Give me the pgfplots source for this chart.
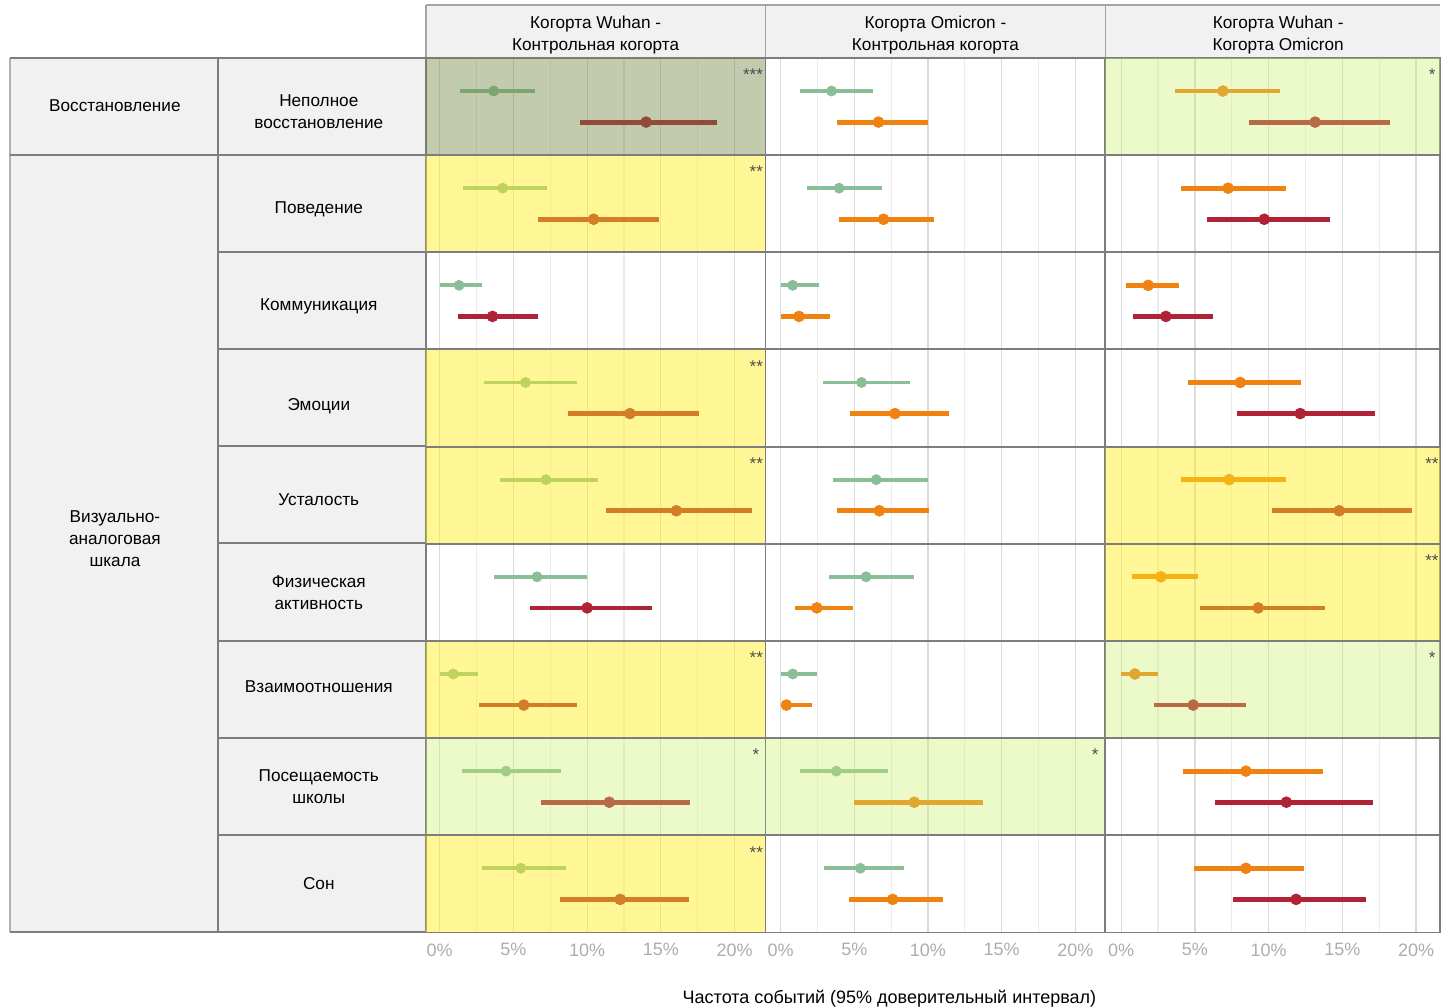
\documentclass[border=0pt]{standalone}
\usepackage{pgfplots}
\pgfplotsset{compat=1.18}
\usepackage{pgfplotstable}
\usepackage{fontspec}
\setmainfont{Liberation Sans}

\definecolor{cgreen}{RGB}{138,190,150}
\definecolor{ccrim}{RGB}{176,34,54}
\definecolor{corange}{RGB}{240,130,18}
\definecolor{ovYc}{RGB}{255,238,20}
\definecolor{ovGc}{RGB}{200,238,100}
\definecolor{ovDc}{RGB}{110,130,60}
\definecolor{lbg}{RGB}{241,241,241}
\definecolor{sepc}{RGB}{125,125,125}
\definecolor{tickg}{RGB}{172,172,172}

% r = row (0 = top), x = estimate, lo/hi = 95% CI
\pgfplotstableread{
r x lo hi
0 3.66 1.36 6.44
1 4.27 1.56 7.25
2 1.31 0.00 2.88
3 5.82 3.03 9.33
4 7.20 4.10 10.75
5 6.60 3.70 10.00
6 0.92 0.00 2.58
7 4.50 1.50 8.20
8 5.50 2.90 8.58
}\cAt
\pgfplotstableread{
r x lo hi
0 14.00 9.50 18.80
1 10.44 6.64 14.90
2 3.58 1.22 6.65
3 12.90 8.68 17.60
4 16.05 11.30 21.20
5 10.00 6.12 14.40
6 5.70 2.67 9.30
7 11.50 6.85 16.95
8 12.24 8.14 16.90
}\cAb
\pgfplotstableread{
r x lo hi
0 3.46 1.29 6.24
1 3.97 1.80 6.90
2 0.82 0.00 2.60
3 5.49 2.85 8.80
4 6.49 3.58 9.97
5 5.80 3.30 9.06
6 0.83 0.00 2.50
7 3.78 1.35 7.30
8 5.41 2.98 8.40
}\cBt
\pgfplotstableread{
r x lo hi
0 6.64 3.80 10.00
1 6.98 3.97 10.40
2 1.25 0.00 3.37
3 7.76 4.73 11.40
4 6.70 3.82 10.10
5 2.46 0.95 4.88
6 0.40 0.00 2.10
7 9.07 5.00 13.70
8 7.61 4.66 11.05
}\cBb
\pgfplotstableread{
r x lo hi
0 6.90 3.66 10.80
1 7.25 4.05 11.17
2 1.83 0.32 3.93
3 8.07 4.50 12.18
4 7.32 4.05 11.20
5 2.69 0.70 5.24
6 0.93 0.00 2.46
7 8.46 4.18 13.67
8 8.46 4.93 12.43
}\cCt
\pgfplotstableread{
r x lo hi
0 13.15 8.70 18.20
1 9.70 5.85 14.15
2 3.03 0.77 6.24
3 12.14 7.84 17.20
4 14.78 10.26 19.75
5 9.29 5.36 13.80
6 4.88 2.24 8.45
7 11.20 6.35 17.07
8 11.86 7.58 16.63
}\cCb

\pgfplotsset{
  panel/.style={
    scale only axis, height=437.5pt,
    ymin=0, ymax=9, y dir=reverse, ytick=\empty,
    xtick={0,5,10,15,20},
    xticklabel={\pgfmathprintnumber[assume math mode=true]{\tick}\%},
    minor xtick={2.5,7.5,12.5,17.5,22.5},
    xmajorgrids, xminorgrids,
    major grid style={draw=black!14, line width=0.6pt},
    minor grid style={draw=black!7, line width=0.6pt},
    major tick length=0pt, minor tick length=0pt,
    xticklabel style={font=\fontsize{9}{9}\selectfont, text=tickg, yshift=-2pt},
    axis line style={draw=sepc, line width=0.9pt},
    clip=true, clip marker paths=true,
  },
}
\newcommand{\ci}[5]{% color, width, table, offset, mark size
  \addplot[only marks, mark=*, mark size=#5, color=#1,
    error bars/.cd, x dir=both, x explicit, error mark=none,
    error bar style={line width=#2, color=#1}]
    table[x=x, y expr=\thisrow{r}+#4,
    x error plus expr=\thisrow{hi}-\thisrow{x},
    x error minus expr=\thisrow{x}-\thisrow{lo}] {#3};}
\newcommand{\ov}[4]{\fill[#3, fill opacity=#4] (axis cs:-5,#1) rectangle (axis cs:30,#2);}
\newcommand{\seps}{\pgfplotsinvokeforeach{1,2,3,4,5,6,7,8}{\draw[sepc, line width=1pt] (axis cs:-5,##1) -- (axis cs:30,##1);}}
\newcommand{\stars}[3]{\node[anchor=north east, inner sep=0pt, text=black!70, font=\fontsize{8.5}{8.5}\selectfont] at (axis cs:#1,#2) {#3};}

\begin{document}
\begin{tikzpicture}
\begin{scope}[x=0.5pt,y=-0.5pt]
\useasboundingbox (0,0) rectangle (1441,1007);
% header
\fill[lbg] (426,5) rectangle (1441,58);
\draw[sepc!70, line width=0.8pt] (426,5) -- (1441,5);
\draw[sepc!70, line width=0.8pt] (426,5) -- (426,58) (766,5) -- (766,58) (1106,5) -- (1106,58);
\node[align=center, font=\fontsize{8.6}{11}\selectfont] at (596,35) {Когорта Wuhan -\\Контрольная когорта};
\node[align=center, font=\fontsize{8.6}{11}\selectfont] at (936,35) {Когорта Omicron -\\Контрольная когорта};
\node[align=center, font=\fontsize{8.6}{11}\selectfont] at (1279,35) {Когорта Wuhan -\\Когорта Omicron};
% left label columns
\fill[lbg] (10,58) rectangle (426,933);
\draw[sepc!60, line width=0.8pt] (10,58) -- (10,933);
\draw[sepc, line width=1pt] (10,58) -- (426,58) (10,155) -- (426,155) (10,933) -- (426,933);
\draw[sepc, line width=1pt] (218,58) -- (218,933);
\foreach \yy in {252.2,349.4,446.6,543.8,641,738.2,835.4}{\draw[sepc, line width=1pt] (218,\yy) -- (426,\yy);}
\node[font=\fontsize{8.6}{11}\selectfont] at (115,106) {Восстановление};
\node[align=center, font=\fontsize{8.6}{11}\selectfont] at (115,539) {Визуально-\\аналоговая\\шкала};
\node[align=center, font=\fontsize{8.6}{11}\selectfont] at (319,111.5) {Неполное\\восстановление};
\node[font=\fontsize{8.6}{11}\selectfont] at (319,209.5) {Поведение};
\node[font=\fontsize{8.6}{11}\selectfont] at (319,307) {Коммуникация};
\node[font=\fontsize{8.6}{11}\selectfont] at (319,406) {Эмоции};
\node[font=\fontsize{8.6}{11}\selectfont] at (319,499.5) {Усталость};
\node[align=center, font=\fontsize{8.6}{11}\selectfont] at (319,592.6) {Физическая\\активность};
\node[font=\fontsize{8.6}{11}\selectfont] at (319,687.5) {Взаимоотношения};
\node[align=center, font=\fontsize{8.6}{11}\selectfont] at (319,787) {Посещаемость\\школы};
\node[font=\fontsize{8.6}{11}\selectfont] at (319,884.2) {Сон};
\node[font=\fontsize{9}{9}\selectfont] at (890,999) {Частота событий (95\% доверительный интервал)};
\end{scope}

% column 1
\begin{axis}[panel, at={(213pt,-29pt)}, anchor=north west, width=170pt, xmin=-0.95, xmax=22.1]
\ci{cgreen}{1.9pt}{\cAt}{0.34}{2.5pt}
\ci{ccrim}{2.4pt}{\cAb}{0.66}{2.7pt}
\ov{0}{1}{ovDc}{0.42}
\ov{1}{2}{ovYc}{0.45}
\ov{3}{4}{ovYc}{0.45}
\ov{4}{5}{ovYc}{0.45}
\ov{6}{7}{ovYc}{0.45}
\ov{8}{9}{ovYc}{0.45}
\ov{7}{8}{ovGc}{0.35}
\seps
\stars{21.95}{0.11}{***}
\stars{21.95}{1.11}{**}
\stars{21.95}{3.11}{**}
\stars{21.95}{4.11}{**}
\stars{21.95}{6.11}{**}
\stars{21.95}{8.11}{**}
\stars{21.7}{7.11}{*}
\end{axis}

% column 2
\begin{axis}[panel, at={(383pt,-29pt)}, anchor=north west, width=170pt, xmin=-1.02, xmax=22.03]
\ci{cgreen}{1.9pt}{\cBt}{0.34}{2.5pt}
\ci{corange}{2.4pt}{\cBb}{0.66}{2.7pt}
\ov{7}{8}{ovGc}{0.35}
\seps
\stars{21.6}{7.11}{*}
\end{axis}

% column 3
\begin{axis}[panel, at={(553pt,-29pt)}, anchor=north west, width=167.5pt, xmin=-1.08, xmax=21.63]
\ci{corange}{2.4pt}{\cCt}{0.34}{2.7pt}
\ci{ccrim}{2.4pt}{\cCb}{0.66}{2.7pt}
\ov{0}{1}{ovGc}{0.35}
\ov{4}{5}{ovYc}{0.45}
\ov{5}{6}{ovYc}{0.45}
\ov{6}{7}{ovGc}{0.35}
\seps
\stars{21.35}{0.11}{*}
\stars{21.55}{4.11}{**}
\stars{21.55}{5.11}{**}
\stars{21.35}{6.11}{*}
\end{axis}
\end{tikzpicture}
\end{document}
